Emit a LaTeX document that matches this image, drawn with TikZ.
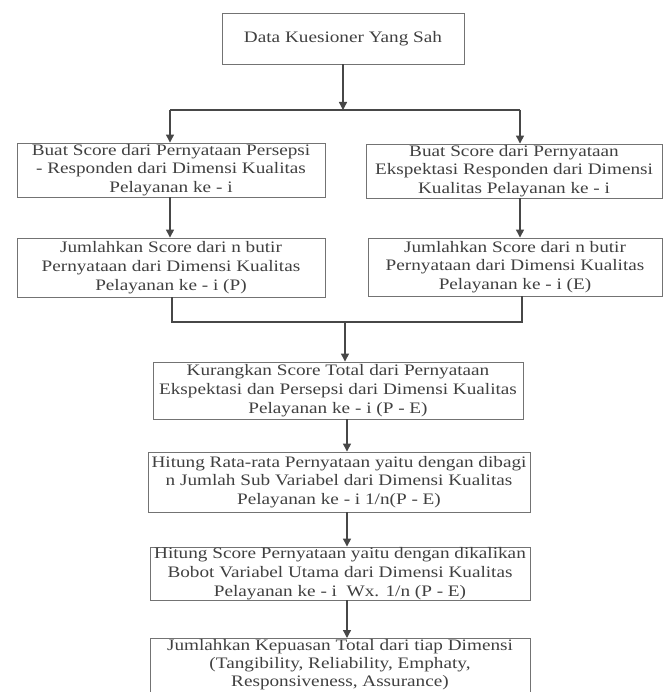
\documentclass[tikz,border=0pt]{standalone}
\usepackage{fontspec}
\setmainfont{Liberation Serif}[FakeStretch=1.2]
\usetikzlibrary{arrows.meta}
\begin{document}
\begin{tikzpicture}[x=1pt,y=-1pt,
  box/.style={draw=black!55, line width=0.9pt, align=center, inner sep=0pt,
    font=\fontsize{16}{18.8}\selectfont, text=black!75},
  flow/.style={draw=black!72, line width=1.3pt},
  arr/.style={flow, -{Triangle[length=8pt,width=8pt]}}]
\useasboundingbox (0,0) rectangle (665,692);
\clip (0,0) rectangle (665,692);
\fill[white] (0,0) rectangle (665,692);

% process boxes
\node[box, minimum width=242pt, minimum height=51pt] (b1) at (343,38.5)
  {Data Kuesioner Yang Sah};
\node[box, minimum width=308pt, minimum height=54pt] (b2l) at (171,170)
  {Buat Score dari Pernyataan Persepsi\\- Responden dari Dimensi Kualitas\\Pelayanan ke - i};
\node[box, minimum width=296pt, minimum height=54pt] (b2r) at (514,171)
  {Buat Score dari Pernyataan\\Ekspektasi Responden dari Dimensi\\Kualitas Pelayanan ke - i};
\node[box, minimum width=308pt, minimum height=59pt] (b3l) at (171,267.5)
  {Jumlahkan Score dari n butir\\Pernyataan dari Dimensi Kualitas\\Pelayanan ke - i (P)};
\node[box, minimum width=294pt, minimum height=58pt] (b3r) at (515,267)
  {Jumlahkan Score dari n butir\\Pernyataan dari Dimensi Kualitas\\Pelayanan ke - i (E)};
\node[box, minimum width=370pt, minimum height=57pt] (b4) at (338,390.5)
  {Kurangkan Score Total dari Pernyataan\\Ekspektasi dan Persepsi dari Dimensi Kualitas\\Pelayanan ke - i (P - E)};
\node[box, minimum width=382pt, minimum height=60pt] (b5) at (339,482)
  {Hitung Rata-rata Pernyataan yaitu dengan dibagi\\n Jumlah Sub Variabel dari Dimensi Kualitas\\Pelayanan ke - i 1/n(P - E)};
\node[box, minimum width=380pt, minimum height=53pt] (b6) at (340,573.5)
  {Hitung Score Pernyataan yaitu dengan dikalikan\\Bobot Variabel Utama dari Dimensi Kualitas\\Pelayanan ke - i \ Wx. 1/n (P - E)};
\node[box, minimum width=380pt, minimum height=62pt, anchor=north] (b7) at (340,638) {};
\node[box, draw=none, font=\fontsize{16}{18}\selectfont] (b7t) at (340,665)
  {Jumlahkan Kepuasan Total dari tiap Dimensi\\(Tangibility, Reliability, Emphaty,\\Responsiveness, Assurance)};

% split below the first box
\coordinate (split)  at (343,110);
\coordinate (splitL) at (170,110);
\coordinate (splitR) at (520,110);
\draw[arr] (b1.south) -- (split);
\draw[flow] (splitL) -- (splitR);
\draw[arr] (splitL) -- (b2l.north -| splitL);
\draw[arr] (splitR) -- (b2r.north -| splitR);

% the two branches
\draw[arr] (b2l.south -| splitL) -- (b3l.north -| splitL);
\draw[arr] (b2r.south -| splitR) -- (b3r.north -| splitR);

% merge of the branches
\coordinate (mergeL) at (172,322);
\coordinate (mergeR) at (522,322);
\coordinate (merge)  at (345,322);
\draw[flow] (b3l.south -| mergeL) -- (mergeL) -- (mergeR) -- (b3r.south -| mergeR);
\draw[arr] (merge) -- (b4.north -| merge);

% main column
\coordinate (spine) at (347,0);
\draw[arr] (b4.south -| spine) -- (b5.north -| spine);
\draw[arr] (b5.south -| spine) -- (b6.north -| spine);
\draw[arr] (b6.south -| spine) -- (b7.north -| spine);
\end{tikzpicture}
\end{document}
